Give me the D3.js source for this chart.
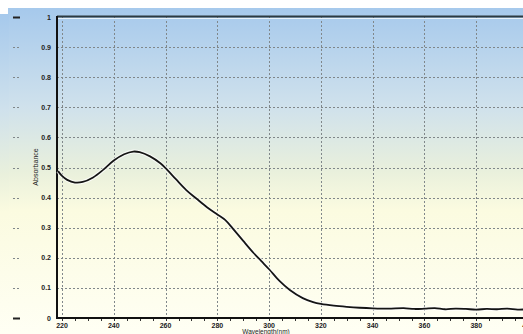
<!DOCTYPE html>
<html>
<head>
<meta charset="utf-8">
<script src="https://cdn.jsdelivr.net/npm/d3@7"></script>
<style>
  html, body { margin: 0; padding: 0; background: #fff; overflow: hidden; }
  svg { display: block; font-family: "Liberation Sans", Arial, sans-serif; }
</style>
</head>
<body>
<div id="chart"></div>
<script>
// spectrum
const wavelength = [218.5, 220, 222, 225, 228, 232, 236, 240, 244, 247.5, 250, 254, 258, 260, 264, 268, 272, 276, 280, 283, 286, 290, 294, 297, 300, 304, 308, 313, 317, 320, 325, 330, 335, 340, 346, 352, 356, 360, 364, 368, 372, 376, 380, 384, 388, 392, 396, 400];
const absorbance = [0.488, 0.472, 0.459, 0.45, 0.452, 0.467, 0.493, 0.523, 0.544, 0.553, 0.551, 0.537, 0.514, 0.498, 0.461, 0.425, 0.396, 0.368, 0.344, 0.326, 0.297, 0.256, 0.216, 0.189, 0.162, 0.123, 0.093, 0.066, 0.053, 0.047, 0.041, 0.037, 0.034, 0.032, 0.031, 0.033, 0.03, 0.031, 0.033, 0.029, 0.031, 0.03, 0.028, 0.03, 0.029, 0.031, 0.028, 0.029];

const xTicks = [220, 240, 260, 280, 300, 320, 340, 360, 380, 400];
const yTicks = [0, 0.1, 0.2, 0.3, 0.4, 0.5, 0.6, 0.7, 0.8, 0.9, 1];
const yLabel = "Absorbance";
const xLabel = "Wavelength(nm)";

const W = 523, H = 334;
const plotLeft = 57, plotTop = 17, plotBottom = 318;

const x = d3.scaleLinear().domain([220, 400]).range([62, 528]);
const y = d3.scaleLinear().domain([0, 1]).range([plotBottom, plotTop]);

const svg = d3.select("#chart").append("svg").attr("width", W).attr("height", H);

// background gradient
const grad = svg.append("defs").append("linearGradient")
  .attr("id", "bg").attr("x1", 0).attr("y1", 0).attr("x2", 0).attr("y2", 1);
[["0%", "#a6c9ec"], ["30%", "#cfe1ec"], ["50%", "#e9f0dc"], ["62%", "#fbfbe0"], ["100%", "#fffff4"]]
  .forEach(([o, c]) => grad.append("stop").attr("offset", o).attr("stop-color", c));

svg.append("rect").attr("x", 8).attr("y", 8).attr("width", W - 8).attr("height", H - 8).attr("fill", "url(#bg)");
svg.append("rect").attr("x", 0).attr("y", 14).attr("width", 9).attr("height", H - 14).attr("fill", "url(#bg)");

// horizontal grid
svg.append("g")
  .selectAll("line")
  .data(yTicks.filter(d => d > 0 && d < 1))
  .join("line")
  .attr("x1", plotLeft).attr("x2", W)
  .attr("y1", d => Math.round(y(d)) + 0.5).attr("y2", d => Math.round(y(d)) + 0.5)
  .attr("stroke", "#80878a").attr("stroke-width", 1).attr("stroke-dasharray", "2,2");

// little stubs on far left
svg.append("g")
  .selectAll("line")
  .data(yTicks)
  .join("line")
  .attr("x1", 13).attr("x2", 20)
  .attr("y1", d => Math.round(y(d)) + 0.5).attr("y2", d => Math.round(y(d)) + 0.5)
  .attr("stroke", d => (d === 0 || d === 1) ? "#222" : "#80878a")
  .attr("stroke-width", d => (d === 0 || d === 1) ? 2 : 1)
  .attr("stroke-dasharray", d => (d === 0 || d === 1) ? null : "2,2");

// vertical grid
svg.append("g")
  .selectAll("line")
  .data(xTicks)
  .join("line")
  .attr("x1", d => Math.round(x(d)) + 0.5).attr("x2", d => Math.round(x(d)) + 0.5)
  .attr("y1", plotTop).attr("y2", plotBottom)
  .attr("stroke", "#80878a").attr("stroke-width", 1).attr("stroke-dasharray", "2,2");

// top frame
svg.append("line").attr("x1", plotLeft).attr("x2", W).attr("y1", 16.5).attr("y2", 16.5)
  .attr("stroke", "#2c3a40").attr("stroke-width", 2);
svg.append("line").attr("x1", plotLeft).attr("x2", W).attr("y1", 18.5).attr("y2", 18.5)
  .attr("stroke", "#e8f2fa").attr("stroke-width", 1);

// minor ticks on x axis every 5 nm
svg.append("g")
  .selectAll("line")
  .data(d3.range(220, 401, 5))
  .join("line")
  .attr("x1", d => Math.round(x(d)) + 0.5).attr("x2", d => Math.round(x(d)) + 0.5)
  .attr("y1", plotBottom).attr("y2", plotBottom + 3)
  .attr("stroke", "#333").attr("stroke-width", 1);

// axes lines
svg.append("line").attr("x1", plotLeft).attr("x2", W).attr("y1", plotBottom).attr("y2", plotBottom)
  .attr("stroke", "#111").attr("stroke-width", 2);
svg.append("line").attr("x1", plotLeft).attr("x2", plotLeft).attr("y1", plotTop - 1).attr("y2", plotBottom + 1)
  .attr("stroke", "#111").attr("stroke-width", 2);

// y tick labels
svg.append("g")
  .selectAll("text")
  .data(yTicks)
  .join("text")
  .attr("x", 51).attr("y", d => y(d) + 2.5)
  .attr("text-anchor", "end")
  .attr("font-size", 7).attr("font-weight", "bold").attr("fill", "#222")
  .text(d => d3.format("~g")(d));

// x tick labels
svg.append("g")
  .selectAll("text")
  .data(xTicks)
  .join("text")
  .attr("x", d => x(d)).attr("y", 328)
  .attr("text-anchor", "middle")
  .attr("font-size", 7).attr("font-weight", "bold").attr("fill", "#222")
  .text(d => d);

// axis titles
svg.append("text")
  .attr("transform", `translate(38,167) rotate(-90)`)
  .attr("text-anchor", "middle")
  .attr("font-size", 7).attr("fill", "#222")
  .text(yLabel);
svg.append("text")
  .attr("x", 266).attr("y", 333.5)
  .attr("text-anchor", "middle")
  .attr("font-size", 6.5).attr("fill", "#222")
  .text(xLabel);

// spectrum
const pts = wavelength.map((w, i) => [w, absorbance[i]]);
const line = d3.line().x(d => x(d[0])).y(d => y(d[1])).curve(d3.curveCatmullRom.alpha(0.5));

svg.append("path").datum(pts).attr("d", line)
  .attr("fill", "none").attr("stroke", "#ffffff").attr("stroke-opacity", 0.7).attr("stroke-width", 4);
svg.append("path").datum(pts).attr("d", line)
  .attr("fill", "none").attr("stroke", "#151515").attr("stroke-width", 1.8);
</script>
</body>
</html>
